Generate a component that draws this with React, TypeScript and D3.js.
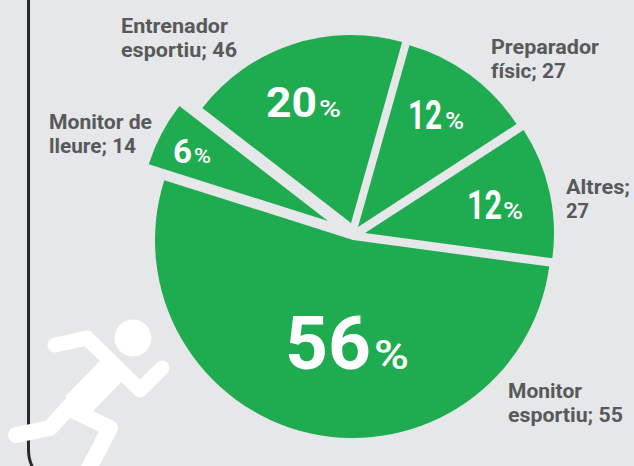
import React from "react";
import * as d3 from "d3";

const categories = ["Monitor esportiu", "Monitor de lleure", "Entrenador esportiu", "Preparador físic", "Altres"];
const counts = [55, 14, 46, 27, 27];
const percents = [56, 6, 20, 12, 12];
const sliceShares = [52.75, 5.6, 18.9, 11.45, 11.3];
const labelLines = [
  ["Monitor", "esportiu; 55"],
  ["Monitor de", "lleure; 14"],
  ["Entrenador", "esportiu; 46"],
  ["Preparador", "físic; 27"],
  ["Altres;", "27"],
];

const W = 634, H = 466;
const BG = "#e6e7e9", GREEN = "#1fab50", GREY = "#58595b";
const FONT = "Roboto, sans-serif";
const apex: [number, number][] = [[353, 240], [328, 221], [351, 223], [358, 227], [365, 233]];
const radii = [198, 188, 188, 189, 189];
const labelPos: [number, number][] = [[508, 398], [49, 129], [121, 33], [491, 54], [566, 194]];
const labelWidths = [[74, 115], [103, 87], [107, 116], [108, 75], [64, 23]];
// x, baseline, number size, number width, % x, % size, % width
const pctPos: [number, number, number, number, number, number, number][] = [
  [285, 369, 75, 86, 374, 40, 35],
  [173, 163, 33, 19, 194, 20, 17],
  [266, 117, 43, 51, 319, 24, 22],
  [408, 129, 41, 34, 445, 24, 19],
  [467, 219, 41, 35, 503, 24, 20],
];

export default function App() {
  const pie = d3.pie<number>().value((d) => d).sort(null).startAngle((97.7 * Math.PI) / 180).endAngle((457.7 * Math.PI) / 180);
  const arcs = pie(sliceShares);
  return (
    <svg width={W} height={H} viewBox={`0 0 ${W} ${H}`} style={{ position: "fixed", left: 0, top: 0, background: BG, fontFamily: FONT }}>
      <rect width={W} height={H} fill={BG} />
      <path d="M28.5,-5 V450 Q28.5,460 33,468" fill="none" stroke="#2b2a2b" strokeWidth={3} />
      {arcs.map((a, i) => {
        const arc = d3.arc<d3.PieArcDatum<number>>().innerRadius(0).outerRadius(radii[i]);
        return <path key={categories[i]} transform={`translate(${apex[i][0]},${apex[i][1]})`} d={arc(a) ?? ""} fill={GREEN} />;
      })}
      {labelLines.map((lines, i) =>
        lines.map((t, j) => (
          <text key={`${i}-${j}`} x={labelPos[i][0]} y={labelPos[i][1] + j * 24} fontSize={20} fontWeight={700} fill={GREY}
            textLength={labelWidths[i][j]} lengthAdjust="spacingAndGlyphs">{t}</text>
        ))
      )}
      {percents.map((p, i) => {
        const [x, y, size, w, px, ps, pw] = pctPos[i];
        return (
          <g key={i} fill="#fff">
            <text x={x} y={y} fontWeight={700} fontSize={size} textLength={w} lengthAdjust="spacingAndGlyphs">{p}</text>
            <text x={px} y={y} fontWeight={500} fontSize={ps} textLength={pw} lengthAdjust="spacingAndGlyphs">%</text>
          </g>
        );
      })}
      <g stroke="#fff" fill="none" strokeLinecap="round" strokeLinejoin="round">
        <circle cx={133} cy={338} r={18.5} fill="#fff" stroke="none" />
        <path d="M55,345 L87,338 L140,390 L162,368" strokeWidth={15} />
        <path d="M112,370 L76,407" strokeWidth={30} strokeLinecap="butt" />
        <path d="M16,435 L50,428 L80,395" strokeWidth={16} />
        <path d="M72,410 L110,428 L88,470" strokeWidth={16} />
      </g>
    </svg>
  );
}
